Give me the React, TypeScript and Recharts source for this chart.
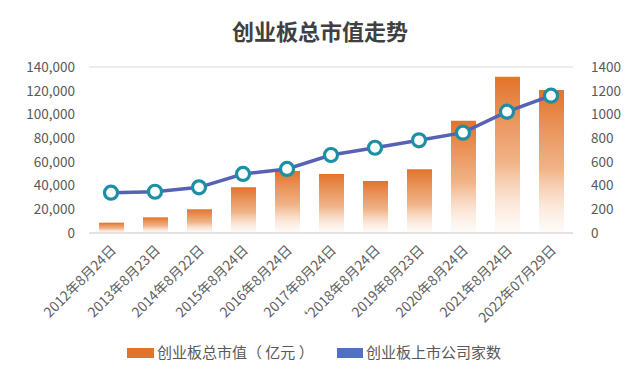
import React from 'react';
import { ComposedChart, Bar, Line, XAxis, YAxis, CartesianGrid } from 'recharts';

const categories = ['2012年8月24日', '2013年8月23日', '2014年8月22日', '2015年8月24日', '2016年8月24日', '2017年8月24日', '‘2018年8月24日', '2019年8月23日', '2020年8月24日', '2021年8月24日', '2022年07月29日'];
const marketCap = [8700, 13200, 20000, 38500, 52300, 49800, 43900, 53700, 94700, 131800, 120600];
const companies = [340, 348, 385, 498, 540, 658, 719, 782, 846, 1023, 1158];
const leftTicks = [0, 20000, 40000, 60000, 80000, 100000, 120000, 140000];
const rightTicks = [0, 200, 400, 600, 800, 1000, 1200, 1400];

const data = categories.map((c, i) => ({ name: c, cap: marketCap[i], cnt: companies[i] }));

const FONT = '"Noto Sans CJK SC", "Noto Sans", sans-serif';
const GRAY = '#595959';

const XTick = (props: any) => {
  const { x, y, payload } = props;
  return (
    <g transform={`translate(${x + 6},${y + 10})`}>
      <text x={0} y={0} textAnchor="end" transform="rotate(-45)" fontSize={13.8} fill="#606060" fontFamily={FONT}>
        {payload.value}
      </text>
    </g>
  );
};

const Dot = (props: any) => {
  const { cx, cy } = props;
  return <circle cx={cx} cy={cy} r={6.5} fill="#fff" stroke="#1B8FA3" strokeWidth={3.2} />;
};

export default function App() {
  return (
    <div style={{ position: 'absolute', left: 0, top: 0, width: 640, height: 375, background: '#fff', fontFamily: FONT }}>
      <div style={{ position: 'absolute', left: 0, top: 14, width: 640, textAlign: 'center', fontSize: 22, fontWeight: 'bold', color: '#404040' }}>
        创业板总市值走势
      </div>
      <ComposedChart width={640} height={375} data={data} margin={{ top: 67, right: 0, left: 0, bottom: 52 }}>
        <defs>
          <linearGradient id="barGrad" x1="0" y1="0" x2="0" y2="1">
            <stop offset="0%" stopColor="#E2732B" stopOpacity={1} />
            <stop offset="55%" stopColor="#EEA673" stopOpacity={0.85} />
            <stop offset="100%" stopColor="#FDF2EA" stopOpacity={0.3} />
          </linearGradient>
        </defs>
        <CartesianGrid vertical={false} stroke="#D9D9D9" strokeWidth={1} />
        <XAxis dataKey="name" height={90} interval={0} tick={<XTick />} tickLine={false} axisLine={{ stroke: '#D9D9D9' }} />
        <YAxis yAxisId="l" width={89} domain={[0, 140000]} ticks={leftTicks} tickFormatter={(v: number) => v.toLocaleString('en-US')} tick={{ fontSize: 13.5, fill: GRAY, fontFamily: FONT }} axisLine={false} tickLine={false} tickMargin={8} />
        <YAxis yAxisId="r" orientation="right" width={67} domain={[0, 1400]} ticks={rightTicks} tick={{ fontSize: 13.5, fill: GRAY, fontFamily: FONT }} axisLine={false} tickLine={false} tickMargin={12} />
        <Bar yAxisId="l" dataKey="cap" fill="url(#barGrad)" barSize={25} isAnimationActive={false} />
        <Line yAxisId="r" dataKey="cnt" stroke="#5862B4" strokeWidth={3.5} dot={<Dot />} activeDot={false} isAnimationActive={false} />
      </ComposedChart>
      <div style={{ position: 'absolute', left: 0, top: 341, width: 640, fontSize: 15, color: GRAY }}>
        <div style={{ position: 'absolute', left: 127, top: 7, width: 27, height: 10, background: '#E2732B' }} />
        <div style={{ position: 'absolute', left: 157, top: 0, whiteSpace: 'nowrap' }}>创业板总市值（ 亿元 ）</div>
        <div style={{ position: 'absolute', left: 337, top: 7, width: 26, height: 10, background: '#4F71BE' }} />
        <div style={{ position: 'absolute', left: 366, top: 0, whiteSpace: 'nowrap' }}>创业板上市公司家数</div>
      </div>
    </div>
  );
}
